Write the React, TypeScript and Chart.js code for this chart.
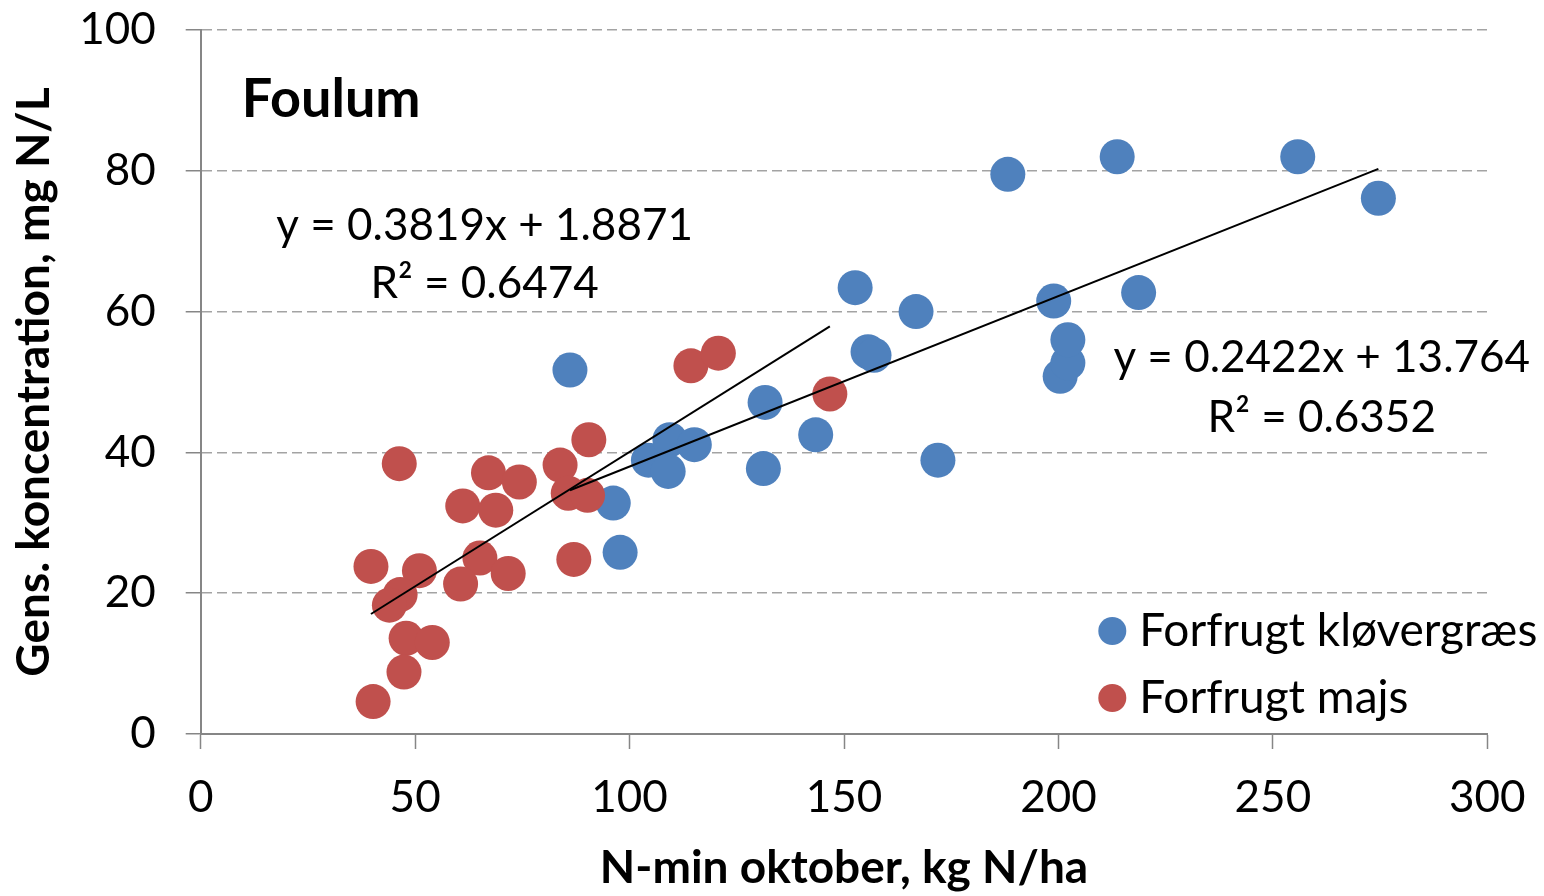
import React, { useEffect, useRef } from "react";
import { Chart, registerables } from "chart.js";

Chart.register(...registerables);

// ---------- data ----------
const kloverX = [86.1, 96.2, 97.8, 104.4, 109.4, 109.0, 115.1, 131.6, 131.2, 143.4, 152.6, 155.6, 157.0, 166.8, 171.9, 188.2, 198.9, 200.4, 202.2, 202.2, 213.7, 218.7, 255.8, 274.6];
const kloverY = [51.7, 32.8, 25.8, 38.9, 41.8, 37.3, 41.1, 47.1, 37.7, 42.5, 63.4, 54.3, 53.8, 60.0, 38.9, 79.5, 61.5, 50.8, 52.7, 56.0, 82.0, 62.7, 82.0, 76.1];

const majsX = [46.3, 67.1, 74.3, 61.1, 68.8, 83.8, 90.5, 85.7, 90.2, 114.3, 120.7, 87.0, 39.7, 51.0, 65.1, 71.7, 60.6, 46.5, 44.0, 47.9, 54.0, 47.4, 40.2, 146.7];
const majsY = [38.4, 37.1, 35.8, 32.4, 31.8, 38.2, 41.8, 34.2, 33.9, 52.3, 54.1, 24.8, 23.8, 23.2, 25.0, 22.8, 21.3, 19.8, 18.3, 13.6, 13.0, 8.8, 4.6, 48.3];

const seriesNames = ["Forfrugt kløvergræs", "Forfrugt majs"];
const seriesColors = ["#4F81BD", "#C0504D"];

// linear trendlines (Excel): kløvergræs, majs
const trendSlopes = [0.2422, 0.3819];
const trendIntercepts = [13.764, 1.8871];
const trendEquations = ["y = 0.2422x + 13.764", "y = 0.3819x + 1.8871"];
const trendR2Labels = ["R² = 0.6352", "R² = 0.6474"];

const xTickValues = [0, 50, 100, 150, 200, 250, 300];
const yTickValues = [0, 20, 40, 60, 80, 100];

const xAxisTitle = "N-min oktober, kg N/ha";
const yAxisTitle = "Gens. koncentration, mg N/L";
const siteLabel = "Foulum";

// label anchors in data coordinates
const labelAnchors = {
  site: { x: 9.6, y: 90.1 },
  eqX: [261.4, 66.2],
  eqY: [53.5, 72.2],
  r2Y: [44.9, 63.9],
};

const FONT = "Lato, 'Open Sans', sans-serif";

function toPoints(xs: number[], ys: number[]) {
  return xs.map((x, i) => ({ x, y: ys[i] }));
}

function trendPoints(i: number, xs: number[]) {
  const lo = Math.min(...xs);
  const hi = Math.max(...xs);
  return [
    { x: lo, y: trendSlopes[i] * lo + trendIntercepts[i] },
    { x: hi, y: trendSlopes[i] * hi + trendIntercepts[i] },
  ];
}

const annotationPlugin = {
  id: "annotations",
  afterDraw(chart: any) {
    const { ctx, chartArea } = chart;
    const xs = chart.scales.x;
    const ys = chart.scales.y;
    ctx.save();
    ctx.fillStyle = "#000";
    ctx.textBaseline = "middle";

    ctx.font = `bold 54px ${FONT}`;
    ctx.textAlign = "left";
    ctx.fillText(siteLabel, xs.getPixelForValue(labelAnchors.site.x), ys.getPixelForValue(labelAnchors.site.y));

    ctx.font = `44px ${FONT}`;
    ctx.textAlign = "center";
    for (let i = 0; i < trendEquations.length; i++) {
      const px = xs.getPixelForValue(labelAnchors.eqX[i]);
      ctx.fillText(trendEquations[i], px, ys.getPixelForValue(labelAnchors.eqY[i]));
      ctx.fillText(trendR2Labels[i], px, ys.getPixelForValue(labelAnchors.r2Y[i]));
    }

    // legend (bottom-right inside plot area)
    const lx = chartArea.right - 375;
    const rows = [chartArea.bottom - 103, chartArea.bottom - 36];
    ctx.font = `46px ${FONT}`;
    ctx.textAlign = "left";
    for (let i = 0; i < seriesNames.length; i++) {
      ctx.beginPath();
      ctx.fillStyle = seriesColors[i];
      ctx.arc(lx, rows[i], 14, 0, Math.PI * 2);
      ctx.fill();
      ctx.fillStyle = "#000";
      ctx.fillText(seriesNames[i], lx + 27, rows[i]);
    }
    ctx.restore();
  },
};

export default function App() {
  const canvasRef = useRef<HTMLCanvasElement | null>(null);

  useEffect(() => {
    let chart: Chart | null = null;
    let cancelled = false;
    const build = () => {
      if (cancelled || !canvasRef.current) return;
      chart = new Chart(canvasRef.current, {
        type: "scatter",
        data: {
          datasets: [
            {
              label: "trend kløvergræs",
              data: trendPoints(0, kloverX),
              showLine: true,
              borderColor: "#000",
              borderWidth: 2,
              pointRadius: 0,
              order: 0,
            },
            {
              label: "trend majs",
              data: trendPoints(1, majsX),
              showLine: true,
              borderColor: "#000",
              borderWidth: 2,
              pointRadius: 0,
              order: 0,
            },
            {
              label: seriesNames[1],
              data: toPoints(majsX, majsY),
              backgroundColor: seriesColors[1],
              borderWidth: 0,
              pointRadius: 17.5,
              order: 1,
            },
            {
              label: seriesNames[0],
              data: toPoints(kloverX, kloverY),
              backgroundColor: seriesColors[0],
              borderWidth: 0,
              pointRadius: 17.5,
              order: 2,
            },
          ] as any,
        },
        options: {
          animation: false,
          responsive: false,
          devicePixelRatio: 1,
          events: [],
          layout: { padding: { top: 30, right: 56.7, left: 0, bottom: 0 } },
          plugins: { legend: { display: false }, tooltip: { enabled: false } },
          scales: {
            x: {
              type: "linear",
              min: 0,
              max: 300,
              afterBuildTicks: (s: any) => {
                s.ticks = xTickValues.map((v) => ({ value: v }));
              },
              afterFit: (s: any) => {
                s.height = 162;
                s.paddingLeft = 0;
                s.paddingRight = 0;
              },
              grid: {
                drawOnChartArea: false,
                drawTicks: true,
                tickLength: 15,
                tickColor: "#868686",
                tickWidth: 1.5,
              },
              border: { display: true, color: "#868686", width: 2 },
              ticks: {
                color: "#000",
                padding: 22,
                maxRotation: 0,
                font: { family: FONT, size: 44 },
              },
              title: {
                display: true,
                text: xAxisTitle,
                color: "#000",
                font: { family: FONT, size: 46, weight: "bold" },
                padding: { top: 0, bottom: 0 },
              },
            },
            y: {
              type: "linear",
              min: 0,
              max: 100,
              afterBuildTicks: (s: any) => {
                s.ticks = yTickValues.map((v) => ({ value: v }));
              },
              afterFit: (s: any) => {
                s.width = 200.7;
                s.paddingTop = 0;
                s.paddingBottom = 0;
              },
              grid: {
                color: "#a3a3a3",
                lineWidth: 1.5,
                drawTicks: true,
                tickLength: 15,
                tickColor: "#868686",
                tickWidth: 1.5,
              },
              border: { display: true, color: "#868686", width: 2, dash: [10, 5] },
              ticks: {
                color: "#000",
                padding: 30,
                font: { family: FONT, size: 44 },
              },
              title: {
                display: true,
                text: yAxisTitle,
                color: "#000",
                font: { family: FONT, size: 46, weight: "bold" },
                padding: { top: 7, bottom: 0 },
              },
            },
          },
        } as any,
        plugins: [annotationPlugin],
      });
    };
    const fontsReady = (document as any).fonts
      ? Promise.all([
          (document as any).fonts.load(`44px Lato`),
          (document as any).fonts.load(`bold 46px Lato`),
        ]).catch(() => null)
      : Promise.resolve(null);
    fontsReady.then(build);
    return () => {
      cancelled = true;
      if (chart) chart.destroy();
    };
  }, []);

  return (
    <div style={{ position: "fixed", left: 0, top: 0, width: 1544, height: 896, background: "#fff" }}>
      <canvas ref={canvasRef} width={1544} height={896} style={{ width: 1544, height: 896, display: "block" }} />
    </div>
  );
}
